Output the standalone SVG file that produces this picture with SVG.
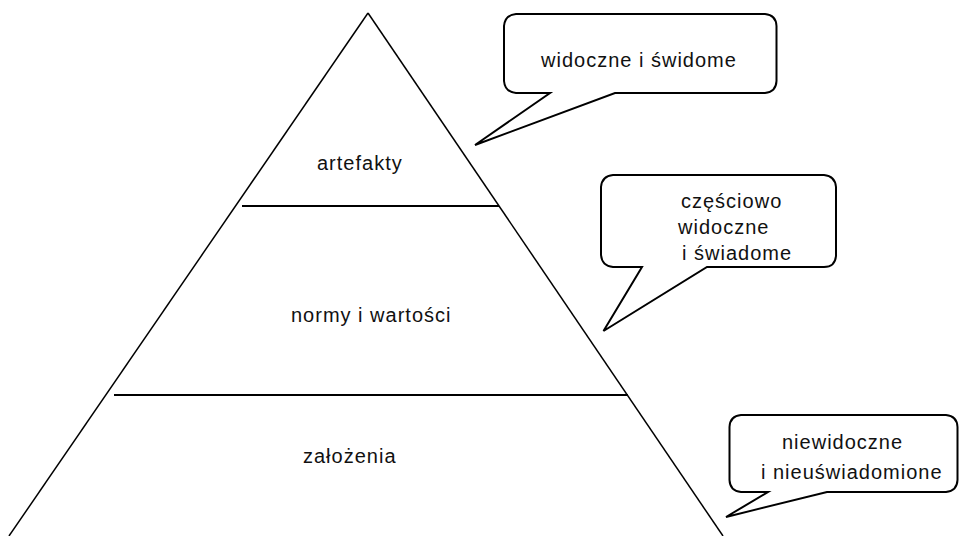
<svg xmlns="http://www.w3.org/2000/svg" width="959" height="536" viewBox="0 0 959 536">
  <style>
    .edge { fill: none; stroke: #000; stroke-width: 1.5; }
    .tier { fill: none; stroke: #000; stroke-width: 2; }
    .bubble { fill: #fff; stroke: #000; stroke-width: 2; stroke-linejoin: miter; }
    .label { font-family: "Liberation Sans", Arial, sans-serif; font-size: 20px; letter-spacing: 1px; fill: #111; }
  </style>
  <rect width="959" height="536" fill="#fff"/>

  <!-- pyramid outline and tier dividers -->
  <g id="pyramid">
    <line class="edge" x1="368" y1="13" x2="9" y2="536"/>
    <line class="edge" x1="368" y1="13" x2="723" y2="536"/>
    <line class="tier" x1="242" y1="206" x2="499" y2="206"/>
    <line class="tier" x1="114" y1="395" x2="628" y2="395"/>
  </g>

  <g id="tier-artefakty">
    <text class="label" x="317" y="170">artefakty</text>
  </g>
  <g id="tier-normy">
    <text class="label" x="291" y="322">normy i wartości</text>
  </g>
  <g id="tier-zalozenia">
    <text class="label" x="303" y="463">założenia</text>
  </g>

  <!-- speech bubbles pointing at the pyramid tiers -->
  <g id="bubble-visible">
    <path class="bubble" d="M516,14 L765,14 Q776,15 776.5,26 L776.5,81 Q776,92 765,93 L615,93 L475,145 L550,93 L516,93 Q505,92 504,81 L504,26 Q505,15 516,14 Z"/>
    <text class="label" x="541" y="67">widoczne i świdome</text>
  </g>

  <g id="bubble-partial">
    <path class="bubble" d="M613,175 L824,175 Q835,176 836,187 L836,256 Q835,267 824,267 L707,267 L603.5,331 L642,267 L613,267 Q602,266 601,255 L601,187 Q602,176 613,175 Z"/>
    <text class="label" x="681" y="208">częściowo</text>
    <text class="label" x="678" y="234">widoczne</text>
    <text class="label" x="682" y="260">i świadome</text>
  </g>

  <g id="bubble-hidden">
    <path class="bubble" d="M741,415 L946,415 Q957,416 957.5,427 L957.5,480 Q957,491 946,492 L827,492 L726,517 L768,492 L741,492 Q730,491 729.5,480 L729.5,427 Q730,416 741,415 Z"/>
    <text class="label" x="782" y="449">niewidoczne</text>
    <text class="label" x="761" y="479">i nieuświadomione</text>
  </g>
</svg>
